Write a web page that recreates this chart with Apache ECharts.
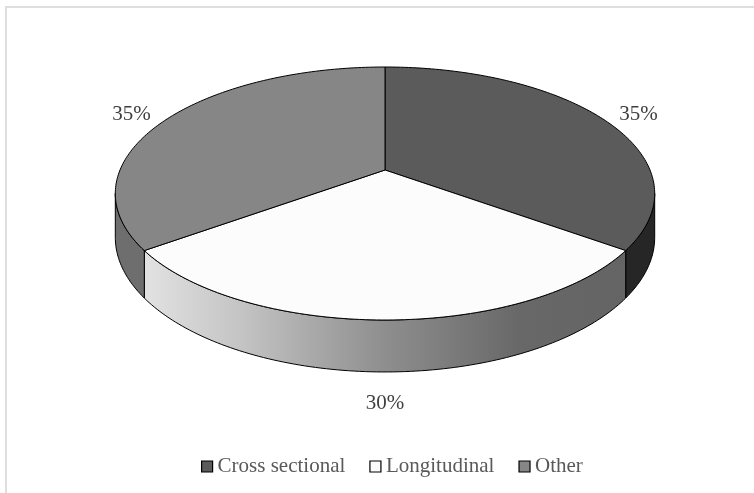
<!DOCTYPE html>
<html>
<head>
<meta charset="utf-8">
<script src="https://cdn.jsdelivr.net/npm/echarts@6/dist/echarts.min.js"></script>
<style>
html, body { margin: 0; padding: 0; background: #fff; }
#chart { width: 754px; height: 493px; }
</style>
</head>
<body>
<div id="chart"></div>
<script>
// 数据
var categories = ['Cross sectional', 'Longitudinal', 'Other'];
var shares = [35, 30, 35];
var labels = ['35%', '30%', '35%'];

// 样式
var topColors = ['#5b5b5b', '#fcfcfc', '#868686'];
var sideColors = ['#262626', null, '#6e6e6e'];
var sideStops = [
	{offset: 0, color: '#e2e2e2'},
	{offset: 0.2, color: '#c4c4c4'},
	{offset: 0.5, color: '#8e8e8e'},
	{offset: 0.78, color: '#686868'},
	{offset: 1, color: '#646464'}
];

// 透视饼图参数
var CX = 385, CY = 170, R = 265, B = 90.55, K = -0.1858, H = 42.3;
var total = shares.reduce(function (a, b) { return a + b; }, 0);
// 可见侧面的角度范围 (左右最外点)
var visFrom = Math.acos(K) * 180 / Math.PI;
var visTo = 360 - visFrom;

function proj(deg, rr, withDepth) {
	var t = deg * Math.PI / 180;
	var u = rr * Math.sin(t), v = -rr * Math.cos(t);
	var w = 1 + K * v;
	return [CX + R * u / w, (CY + B * v) / w + withDepth * H / w];
}

function arc(a0, a1, rr, depth) {
	var pts = [], n = Math.max(2, Math.ceil(Math.abs(a1 - a0)));
	for (var i = 0; i <= n; i++) {
		pts.push(proj(a0 + (a1 - a0) * i / n, rr, depth));
	}
	return pts;
}

function sliceRange(idx) {
	var start = 0;
	for (var i = 0; i < idx; i++) start += shares[i];
	return [start / total * 360, (start + shares[idx]) / total * 360];
}

function renderSlice(params, api) {
	var idx = api.value(0);
	var rg = sliceRange(idx);
	var children = [];

	// 侧面
	var s0 = Math.max(rg[0], visFrom), s1 = Math.min(rg[1], visTo);
	if (s1 > s0) {
		var topArc = arc(s0, s1, 1, 0);
		var botArc = arc(s1, s0, 1, 1);
		var pts = topArc.concat(botArc);
		var fill = sideColors[idx];
		if (!fill) {
			var minX = Math.min.apply(null, pts.map(function (p) { return p[0]; }));
			var maxX = Math.max.apply(null, pts.map(function (p) { return p[0]; }));
			fill = new echarts.graphic.LinearGradient(minX, 0, maxX, 0, sideStops, true);
		}
		children.push({
			type: 'polygon',
			z2: 1,
			shape: {points: pts},
			style: {fill: fill, stroke: '#000', lineWidth: 1, lineJoin: 'round'}
		});
	}

	// 顶面
	var topPts = [proj(0, 0, 0)].concat(arc(rg[0], rg[1], 1, 0));
	children.push({
		type: 'polygon',
		z2: 10,
		shape: {points: topPts},
		style: {fill: topColors[idx], stroke: '#000', lineWidth: 1, lineJoin: 'round'}
	});

	// 标签
	var mid = (rg[0] + rg[1]) / 2;
	var v = -Math.cos(mid * Math.PI / 180);
	var lp = proj(mid, 1.18, 0.82 * Math.max(0, Math.min(1, v * 1.18)));
	children.push({
		type: 'text',
		z2: 20,
		x: lp[0],
		y: lp[1] + 4,
		style: {
			text: labels[idx],
			fill: '#404040',
			font: '21px "Liberation Serif"',
			align: 'center',
			verticalAlign: 'middle'
		}
	});

	return {type: 'group', children: children};
}

var seriesData = [];
for (var i = 0; i < categories.length; i++) {
	seriesData.push({
		type: 'custom',
		name: categories[i],
		coordinateSystem: 'none',
		itemStyle: {color: topColors[i]},
		renderItem: renderSlice,
		data: [[i]],
		silent: true
	});
}

var charts = echarts.init(document.getElementById('chart'));
var option = {
	backgroundColor: '#fff',
	animation: false,
	graphic: [{
		type: 'rect',
		shape: {x: 6, y: 7, width: 800, height: 600},
		style: {fill: 'none', stroke: '#dedede', lineWidth: 2}
	}],
	legend: {
		data: categories,
		left: 196,
		top: 451,
		icon: 'rect',
		itemWidth: 11,
		itemHeight: 11,
		itemGap: 24,
		itemStyle: {borderColor: '#000', borderWidth: 1.2},
		textStyle: {fontFamily: 'Liberation Serif', fontSize: 21, color: '#595959'}
	},
	series: seriesData
};
charts.setOption(option);
</script>
</body>
</html>
